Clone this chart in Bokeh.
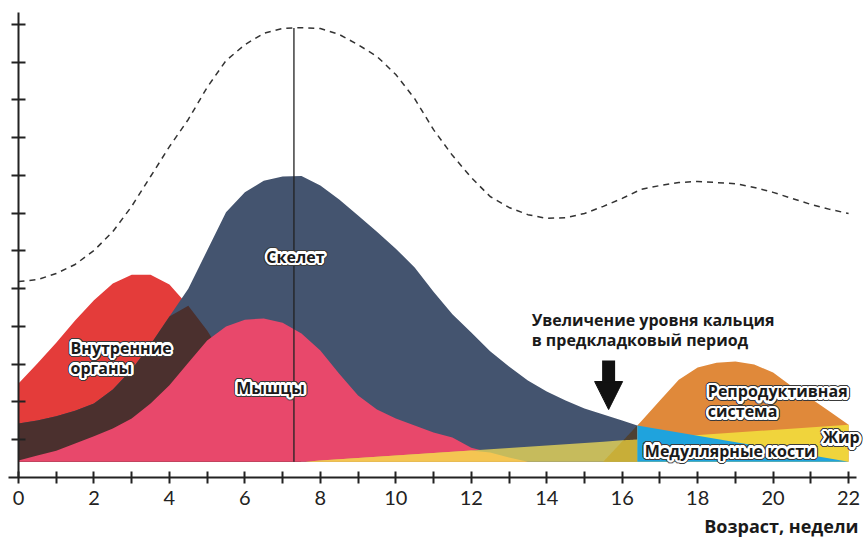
import numpy as np
from bokeh.plotting import figure
from bokeh.models import Range1d, FixedTicker, Title, Arrow, NormalHead, ColumnDataSource
from bokeh.core.properties import value
from bokeh.embed import file_html
from bokeh.resources import INLINE

# ---------------- data (y in axis tick units, x in weeks) ----------------
SKEL_WEEKS = [0, 0.5, 1, 1.5, 2, 2.5, 3, 3.5, 4, 4.5, 5, 5.5, 6, 6.5, 7, 7.5, 8, 8.5,
              9, 9.5, 10, 10.5, 11, 11.5, 12, 12.5, 13, 13.5, 14, 14.5, 15, 15.5, 16, 16.4]
SKELETON = [1.43, 1.51, 1.62, 1.77, 1.96, 2.33, 2.86, 3.52, 4.26, 5.00, 6.01, 7.02, 7.55, 7.86,
            7.97, 7.98, 7.73, 7.36, 6.94, 6.51, 6.06, 5.56, 4.92, 4.32, 3.84, 3.34, 2.94, 2.57,
            2.28, 2.04, 1.83, 1.67, 1.51, 1.38]

ORGAN_WEEKS = [0, 0.5, 1, 1.5, 2, 2.5, 3, 3.5, 4, 4.5, 5, 5.5, 6, 6.5, 7, 7.5]
ORGANS = [2.49, 3.02, 3.57, 4.16, 4.69, 5.14, 5.37, 5.37, 5.11, 4.55, 3.89, 3.10, 2.30, 1.51, 0.85, 0.42]

MUSCLE_WEEKS = [0, 0.5, 1, 1.5, 2, 2.5, 3, 3.5, 4, 4.5, 5, 5.5, 6, 6.5, 7, 7.5, 8, 8.5,
                9, 9.5, 10, 10.5, 11, 11.5, 12, 12.5, 13, 13.5]
MUSCLES = [0.45, 0.58, 0.71, 0.90, 1.09, 1.30, 1.56, 1.96, 2.44, 3.04, 3.63, 4.00, 4.18, 4.21,
           4.10, 3.81, 3.36, 2.75, 2.17, 1.80, 1.56, 1.38, 1.19, 1.06, 0.79, 0.66, 0.53, 0.42]

FAT_WEEKS = [7.6, 16.4, 22]
FAT = [0.42, 1.01, 1.40]

MED_WEEKS = [15.5, 16.4, 22]
MEDULLARY = [0.42, 1.38, 0.42]

REPRO_WEEKS = [16.4, 16.5, 17, 17.5, 18, 18.5, 19, 19.5, 20, 20.5, 21, 21.5, 22]
REPRO = [1.38, 1.48, 2.04, 2.59, 2.91, 3.04, 3.07, 2.99, 2.78, 2.41, 2.09, 1.75, 1.40]

TOTAL_WEEKS = [i * 0.5 for i in range(45)]
TOTAL = [5.19, 5.24, 5.40, 5.64, 6.01, 6.51, 7.18, 7.97, 8.76, 9.48, 10.33, 11.04, 11.46, 11.76,
         11.89, 11.91, 11.89, 11.73, 11.46, 11.15, 10.67, 10.03, 9.21, 8.53, 7.94, 7.44, 7.15,
         6.96, 6.86, 6.88, 6.99, 7.18, 7.39, 7.63, 7.73, 7.81, 7.84, 7.81, 7.78, 7.68, 7.55,
         7.39, 7.23, 7.10, 6.99]

PEAK_WEEK = 7.3          # vertical marker
ARROW_WEEK = 15.64       # pre-laying calcium arrow
ARROW_FROM, ARROW_TO = 3.10, 1.80

X_MAJOR = list(range(0, 23, 2))
X_MINOR = list(range(1, 22, 2))
Y_TICKS = list(range(1, 13))

LABELS = [
    # text, week, y, align
    ("Внутренние", 1.38, 3.44, "left"),
    ("органы", 1.38, 2.91, "left"),
    ("Скелет", 7.34, 5.85, "center"),
    ("Мышцы", 6.68, 2.38, "center"),
    ("Репродуктивная", 18.27, 2.28, "left"),
    ("система", 18.27, 1.75, "left"),
    ("Медуллярные кости", 16.6, 0.71, "left"),
    ("Жир", 21.32, 1.06, "left"),
]
NOTE = [("Увеличение уровня кальция", 13.6, 4.16), ("в предкладковый период", 13.6, 3.63)]
X_TITLE = "Возраст, недели"

# ---------------- style ----------------
BASE = 0.42
C_ORGANS = "#e43c3a"
C_SKEL = "#44546f"
C_OVERLAP = "#4b302e"
C_MUSCLE = "#e8486b"
C_FAT_MUSCLE = "#f4c552"
C_FAT_SKEL = "#c6bb5c"
C_MED_DARK_FAT = "#c8ae38"
C_MED_DARK_SKEL = "#4e4132"
C_REPRO = "#e0893a"
C_FAT = "#f0d43c"
C_MED = "#1fa3dd"
AX = "#222222"
FONT = "Open Sans"

p = figure(width=866, height=543, x_range=Range1d(-0.265, 22.475), y_range=Range1d(0, 12.63),
           output_backend="svg", toolbar_location=None,
           min_border_left=8, min_border_right=0, min_border_top=0, min_border_bottom=66)
p.outline_line_color = None
p.grid.grid_line_color = None

# organs
ow = np.array(ORGAN_WEEKS); ov = np.array(ORGANS)
p.varea(x=ow, y1=BASE, y2=ov, fill_color=C_ORGANS)
# skeleton
sw = np.array(SKEL_WEEKS); sv = np.array(SKELETON)
p.varea(x=sw, y1=BASE, y2=sv, fill_color=C_SKEL)
# overlap organs / skeleton
sk_on_o = np.interp(ow, sw, sv)
p.varea(x=ow, y1=BASE, y2=np.minimum(ov, sk_on_o), fill_color=C_OVERLAP)
# muscles
mw = np.array(MUSCLE_WEEKS); mv = np.array(MUSCLES)
p.varea(x=mw, y1=BASE, y2=mv, fill_color=C_MUSCLE)

# fat left of 16.4 (blended over skeleton / muscles)
fx = np.concatenate([[FAT_WEEKS[0]], mw[mw > FAT_WEEKS[0]], sw[sw > mw[-1]]])
fx = np.unique(np.concatenate([fx, [FAT_WEEKS[1]]]))
fx = fx[fx <= FAT_WEEKS[1]]
fv = np.interp(fx, FAT_WEEKS, FAT)
p.varea(x=fx, y1=BASE, y2=fv, fill_color=C_FAT_SKEL)
mfx = fx[fx <= mw[-1]]
mfv = np.minimum(np.interp(mfx, FAT_WEEKS, FAT), np.interp(mfx, mw, mv))
p.varea(x=mfx, y1=BASE, y2=mfv, fill_color=C_FAT_MUSCLE)

# medullary bone build-up left of 16.4 (dark blend)
dx = np.linspace(MED_WEEKS[0], MED_WEEKS[1], 40)
dm = np.interp(dx, MED_WEEKS, MEDULLARY)
df = np.interp(dx, FAT_WEEKS, FAT)
p.varea(x=dx, y1=BASE, y2=np.minimum(dm, df), fill_color=C_MED_DARK_FAT)
p.varea(x=dx, y1=df, y2=np.maximum(dm, df), fill_color=C_MED_DARK_SKEL)

# reproductive system
p.varea(x=REPRO_WEEKS, y1=BASE, y2=REPRO, fill_color=C_REPRO)
# fat right of 16.4
p.varea(x=FAT_WEEKS[1:], y1=BASE, y2=FAT[1:], fill_color=C_FAT)
# medullary bone
p.varea(x=MED_WEEKS[1:], y1=BASE, y2=MEDULLARY[1:], fill_color=C_MED)

# total (dashed)
p.line(TOTAL_WEEKS, TOTAL, line_color="#333333", line_width=1.5, line_dash="6 5")
peak_y = float(np.interp(PEAK_WEEK, TOTAL_WEEKS, TOTAL))
p.segment(x0=[PEAK_WEEK], y0=[BASE], x1=[PEAK_WEEK], y1=[peak_y], line_color=AX, line_width=1.3)

# arrow
p.add_layout(Arrow(x_start=ARROW_WEEK, y_start=ARROW_FROM, x_end=ARROW_WEEK, y_end=ARROW_TO,
                   line_width=13, line_color="#111111",
                   end=NormalHead(size=28, fill_color="#111111", line_color="#111111")))

# labels with white halo and thin dark rim
src = ColumnDataSource(dict(x=[l[1] for l in LABELS], y=[l[2] for l in LABELS],
                            t=[l[0] for l in LABELS], a=[l[3] for l in LABELS]))
txt = dict(x="x", y="y", text="t", source=src, text_align="a", text_baseline="middle",
           text_font=value(FONT), text_font_style="bold", text_font_size="16px")
angles = np.linspace(0, 2 * np.pi, 16, endpoint=False)
for r, col in [(3.5, "#3a3a3a"), (2.4, "white")]:
    for a in angles:
        p.text(x_offset=float(r * np.cos(a)), y_offset=float(r * np.sin(a)), text_color=col, **txt)
p.text(text_color="#1a1a1a", **txt)

nsrc = ColumnDataSource(dict(x=[n[1] for n in NOTE], y=[n[2] for n in NOTE], t=[n[0] for n in NOTE]))
p.text(x="x", y="y", text="t", source=nsrc, text_align="left", text_baseline="middle",
       text_font=value(FONT), text_font_style="bold", text_font_size="16px", text_color="#1a1a1a")

p.add_layout(Title(text=X_TITLE, align="right", offset=8, standoff=8,
                   text_font=FONT, text_font_style="bold", text_font_size="18px",
                   text_color="#1a1a1a"), "below")

# axes
for ax in (p.xaxis, p.yaxis):
    ax.axis_line_color = AX
    ax.axis_line_width = 2
    ax.major_tick_line_color = AX
    ax.major_tick_line_width = 2
    ax.minor_tick_line_color = AX
    ax.minor_tick_line_width = 2

p.yaxis.fixed_location = 0

p.xaxis.ticker = FixedTicker(ticks=X_MAJOR, minor_ticks=X_MINOR)
p.xaxis.bounds = (-0.265, 22.2)
p.xaxis.major_tick_in = 6
p.xaxis.major_tick_out = 6
p.xaxis.minor_tick_in = 6
p.xaxis.minor_tick_out = 6
p.xaxis.major_label_standoff = 7
p.xaxis.major_label_text_font = "Lato"
p.xaxis.major_label_text_font_size = "20px"
p.xaxis.major_label_text_color = AX

p.yaxis.ticker = FixedTicker(ticks=[], minor_ticks=Y_TICKS)
p.yaxis.bounds = (0, 12.3)
p.yaxis.minor_tick_in = 7
p.yaxis.minor_tick_out = 7

open("out.html", "w").write(file_html(p, INLINE))
